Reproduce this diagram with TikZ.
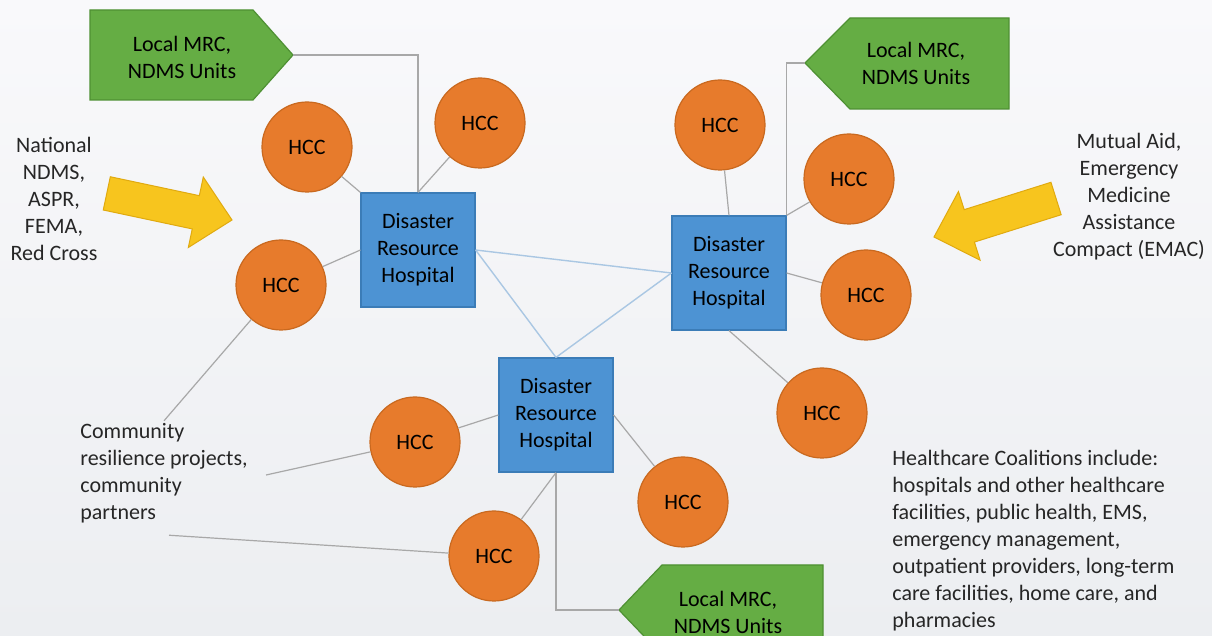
\documentclass[tikz,border=0pt]{standalone}
\usepackage{fontspec}
\setmainfont{Carlito}
\usepackage{xcolor}
\usetikzlibrary{calc}

\definecolor{bgtop}{HTML}{F9F9FB}
\definecolor{bgbot}{HTML}{ECEEF1}
\definecolor{hccfill}{HTML}{E77B2C}
\definecolor{hccline}{HTML}{C9691F}
\definecolor{drhfill}{HTML}{4D93D3}
\definecolor{drhline}{HTML}{3B7CB7}
\definecolor{mrcfill}{HTML}{65AD44}
\definecolor{mrcline}{HTML}{4E9033}
\definecolor{aidfill}{HTML}{F7C51E}
\definecolor{aidline}{HTML}{E0AA10}
\definecolor{linkgray}{HTML}{A8A8A8}
\definecolor{linkblue}{HTML}{AAC7E3}
\definecolor{notetext}{HTML}{262626}

\tikzset{
  every node/.style={font=\fontsize{11}{13.5}\selectfont},
  hcc/.style={circle, fill=hccfill, draw=hccline, line width=0.6pt,
    minimum size=45pt, inner sep=0pt, text=black},
  drh/.style={rectangle, fill=drhfill, draw=drhline, line width=0.6pt,
    minimum width=57pt, minimum height=57pt, inner sep=0pt,
    align=center, text=black},
  mrc/.style={fill=mrcfill, draw=mrcline, line width=0.6pt},
  mrclabel/.style={align=center, text=black},
  aid/.style={fill=aidfill, draw=aidline, line width=0.5pt},
  note/.style={text=notetext, inner sep=1pt},
  link/.style={draw=linkgray, line width=0.6pt},
  hub/.style={draw=linkblue, line width=0.7pt}
}

\begin{document}
\begin{tikzpicture}[x=0.5pt, y=-0.5pt]
  \path[use as bounding box] (0,0) rectangle (1212,636);
  \shade[top color=bgtop, bottom color=bgbot] (0,0) rectangle (1212,636);
  \clip (0,0) rectangle (1212,636);

  % hospitals
  \node[drh] (drhA) at (418,250) {Disaster\\Resource\\Hospital};
  \node[drh] (drhB) at (729,273) {Disaster\\Resource\\Hospital};
  \node[drh] (drhC) at (556,415) {Disaster\\Resource\\Hospital};

  % coalitions
  \node[hcc] (hccA1) at (307,147) {HCC};
  \node[hcc] (hccA2) at (480,123) {HCC};
  \node[hcc] (hccA3) at (281,285) {HCC};
  \node[hcc] (hccB1) at (720,125) {HCC};
  \node[hcc] (hccB2) at (849,179) {HCC};
  \node[hcc] (hccB3) at (866,295) {HCC};
  \node[hcc] (hccB4) at (822,413) {HCC};
  \node[hcc] (hccC1) at (415,442) {HCC};
  \node[hcc] (hccC2) at (683,502) {HCC};
  \node[hcc] (hccC3) at (494,556) {HCC};

  % local units
  \filldraw[mrc] (90,10) -- (253,10) -- (293,55) -- (253,100) -- (90,100) -- cycle;
  \coordinate (tipA) at (293,55);
  \node[mrclabel] (mrcA) at (182,57) {Local MRC,\\NDMS Units};
  \filldraw[mrc] (1009,18) -- (850,18) -- (805,63) -- (850,109) -- (1009,109) -- cycle;
  \coordinate (tipB) at (805,63);
  \node[mrclabel] (mrcB) at (916,63) {Local MRC,\\NDMS Units};
  \filldraw[mrc] (823,565) -- (662,565) -- (619,610) -- (662,655) -- (823,655) -- cycle;
  \coordinate (tipC) at (619,610);
  \node[mrclabel] (mrcC) at (728,612) {Local MRC,\\NDMS Units};

  % outside help
  \filldraw[aid, shift={(232,220)}, rotate=-12] (0,0) -- (-37,-36) -- (-37,-17)
    -- (-128,-17) -- (-128,17) -- (-37,17) -- (-37,36) -- cycle;
  \filldraw[aid, shift={(934,237)}, rotate=17.5] (0,0) -- (37,-36) -- (37,-17)
    -- (128,-17) -- (128,17) -- (37,17) -- (37,36) -- cycle;

  \node[note, align=center] (national) at (54,199)
    {National\\NDMS,\\ASPR,\\FEMA,\\Red Cross};
  \node[note, align=center] (mutual) at (1129,197)
    {Mutual Aid,\\Emergency\\Medicine\\Assistance\\Compact (EMAC)};
  \node[note, align=left, anchor=west] (community) at (78,473)
    {Community\\resilience projects,\\community\\partners};
  \node[note, align=left, anchor=west] (coalitions) at (890,541)
    {Healthcare Coalitions include:\\hospitals and other healthcare\\
     facilities, public health, EMS,\\emergency management,\\
     outpatient providers, long-term\\care facilities, home care, and\\
     pharmacies};

  % connectors
  \draw[link] (tipA) -| (drhA.north);
  \draw[link] (tipB) -| (drhB.north east);
  \draw[link] (tipC) -| (drhC.south);
  \draw[link] (hccA1) -- (drhA.north west);
  \draw[link] (hccA2) -- (drhA.north);
  \draw[link] (hccA3) -- (drhA.west);
  \draw[link] (hccB1) -- (drhB.north);
  \draw[link] (hccB2) -- (drhB.north east);
  \draw[link] (hccB3) -- (drhB.east);
  \draw[link] (hccB4) -- (drhB.south);
  \draw[link] (hccC1) -- (drhC.west);
  \draw[link] (hccC2) -- (drhC.east);
  \draw[link] (hccC3) -- (drhC.south);
  \draw[link] (hccA3) -- (community.north);
  \draw[link] ($(community.east)+(16,2)$) -- (hccC1);
  \draw[link] ($(community.south)+(5,10)$) -- (hccC3);
  \draw[hub] (drhA.east) -- (drhB.west);
  \draw[hub] (drhA.east) -- (drhC.north);
  \draw[hub] (drhB.west) -- (drhC.north);
\end{tikzpicture}
\end{document}
